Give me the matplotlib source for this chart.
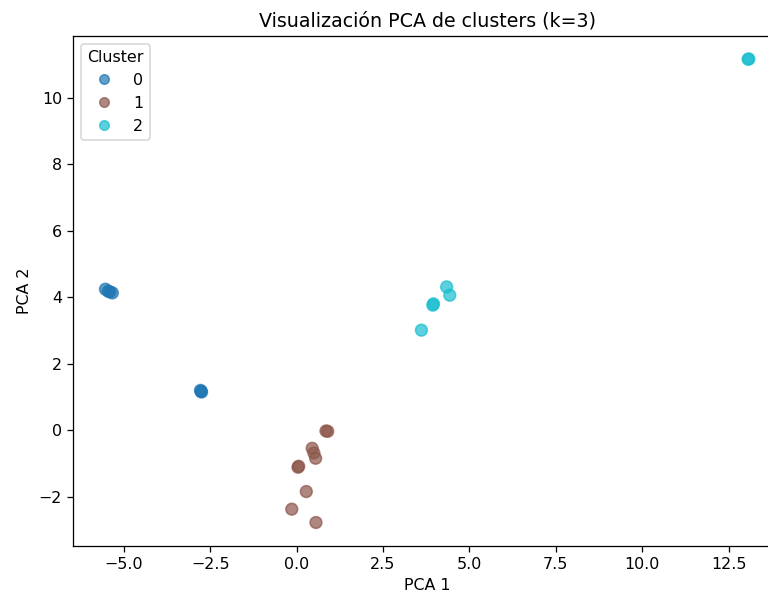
import numpy as np
import matplotlib
matplotlib.use("Agg")
import matplotlib.pyplot as plt

# PCA coordinates, one array per cluster
pca1_c0 = [-5.53, -5.45, -5.40, -5.33, -2.78, -2.76, -2.75]
pca2_c0 = [4.24, 4.18, 4.16, 4.13, 1.20, 1.17, 1.15]

pca1_c1 = [0.85, 0.90, 0.45, 0.50, 0.55, 0.04, 0.06, 0.28, -0.14, 0.56]
pca2_c1 = [-0.02, -0.03, -0.54, -0.68, -0.84, -1.11, -1.08, -1.84, -2.37, -2.77]

pca1_c2 = [13.06, 13.08, 4.34, 4.43, 3.94, 3.96, 3.61]
pca2_c2 = [11.15, 11.16, 4.31, 4.06, 3.76, 3.80, 3.01]

x = np.array(pca1_c0 + pca1_c1 + pca1_c2)
y = np.array(pca2_c0 + pca2_c1 + pca2_c2)
labels = np.array([0] * len(pca1_c0) + [1] * len(pca1_c1) + [2] * len(pca1_c2))

# the screenshot is a slightly enlarged render, hence the odd dpi
dpi = 114
fig = plt.figure(figsize=(768 / dpi, 595 / dpi), dpi=dpi)
# the original screenshot cuts off the right side of the axes
ax = fig.add_axes([0.0954, 0.0829, 0.9215, 0.857])

sc = ax.scatter(x, y, c=labels, cmap='tab10', s=55, alpha=0.7)

handles, names = sc.legend_elements()
ax.legend(handles, ['0', '1', '2'], title='Cluster', loc='upper left')

ax.set_title('Visualización PCA de clusters (k=3)')
ax.set_xlabel('PCA 1')
ax.set_ylabel('PCA 2')

fig.savefig('out.png', dpi=dpi)
